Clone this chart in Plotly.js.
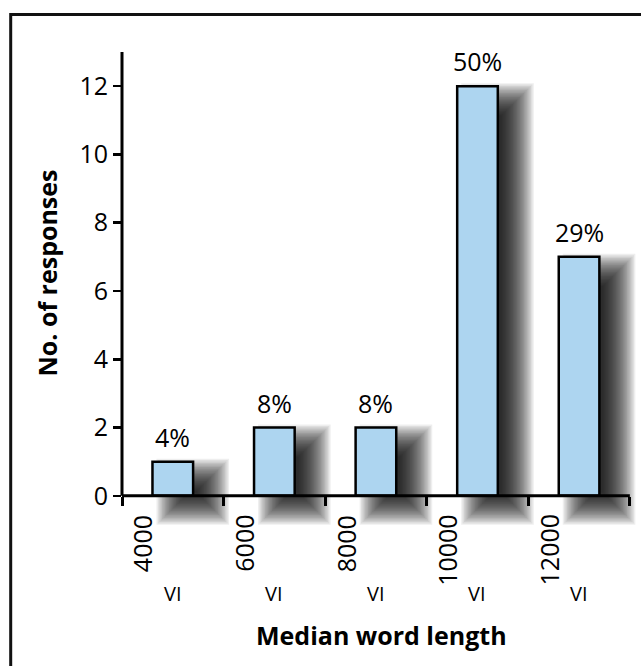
<!DOCTYPE html>
<html>
<head>
<meta charset="utf-8">
<script src="https://cdn.plot.ly/plotly-3.0.1.min.js"></script>
<style>
  html, body { margin: 0; padding: 0; background: #ffffff; }
  #chart { width: 641px; height: 666px; }
</style>
</head>
<body>
<div id="chart"></div>
<script>
// ---- data ----
const categories = ['≤4000', '≤6000', '≤8000', '≤10000', '≤12000'];
const tickNumbers = ['4000', '6000', '8000', '10000', '12000'];
const tickMarks = ['VI', 'VI', 'VI', 'VI', 'VI'];
const responses = [1, 2, 2, 12, 7];
const percentLabels = ['4%', '8%', '8%', '50%', '29%'];

// ---- layout geometry ----
const W = 641, H = 666;
const M = { l: 122, r: 1, t: 52, b: 136 };
const xRange = [-0.5, 4.6];
const yRange = [-1, 13];
const plotW = W - M.l - M.r;
const plotH = H - M.t - M.b;
const catPx = plotW / (xRange[1] - xRange[0]);
const unitPx = plotH / (yRange[1] - yRange[0]);
const barW = 0.4;
const FONT = 'Open Sans, Noto Sans, sans-serif';

// ---- soft drop shadow built from layered translucent bars ----
const traces = [];
const layers = 24;
const blurPx = 16;
const shadowDx = 20 / catPx;
const shadowDy = 13 / unitPx;
for (let k = 0; k < layers; k++) {
  const e = blurPx - 2 * blurPx * k / (layers - 1);
  const ex = e / catPx, ey = e / unitPx;
  traces.push({
    type: 'bar',
    x: categories,
    y: responses.map(v => v + 2 * ey),
    base: -shadowDy - ey,
    offset: -barW / 2 + shadowDx - ex,
    width: barW + 2 * ex,
    marker: { color: 'rgba(0,0,0,0.066)', line: { width: 0 } },
    hoverinfo: 'skip',
    showlegend: false
  });
}

// ---- main bars ----
traces.push({
  type: 'bar',
  x: categories,
  y: responses,
  width: barW,
  marker: { color: '#ADD5F0', line: { color: '#000000', width: 2.5 } },
  showlegend: false,
  hoverinfo: 'x+y'
});

// ---- annotations (x given as category index) ----
const annotations = [];
categories.forEach((c, i) => {
  annotations.push({
    x: i, y: responses[i], xref: 'x', yref: 'y',
    text: percentLabels[i], showarrow: false,
    xanchor: 'center', yanchor: 'bottom', yshift: 6,
    font: { family: FONT, size: 25, color: '#000' }
  });
  annotations.push({
    x: i, y: 0, xref: 'x', yref: 'y',
    text: tickNumbers[i], showarrow: false, textangle: -90,
    xanchor: 'center', yanchor: 'top', xshift: -30, yshift: -17,
    font: { family: FONT, size: 25, color: '#000' }
  });
  annotations.push({
    x: i, y: 0, xref: 'x', yref: 'y',
    text: tickMarks[i], showarrow: false,
    xanchor: 'center', yanchor: 'middle', yshift: -98,
    font: { family: FONT, size: 20, color: '#000' }
  });
});
annotations.push({
  x: 0.5, y: (H - M.b - 635) / plotH, xref: 'paper', yref: 'paper',
  text: '<b>Median word length</b>', showarrow: false,
  xanchor: 'center', yanchor: 'middle',
  font: { family: FONT, size: 25, color: '#000' }
});
annotations.push({
  x: (46 - M.l) / plotW, y: (H - M.b - 273.5) / plotH, xref: 'paper', yref: 'paper',
  text: '<b>No. of responses</b>', showarrow: false, textangle: -90,
  xanchor: 'center', yanchor: 'middle',
  font: { family: FONT, size: 25, color: '#000' }
});

// ---- shapes: axis lines and outer frame ----
const shapes = [
  { type: 'line', xref: 'x', yref: 'y', x0: -0.5, x1: 4.5, y0: 0, y1: 0,
    line: { color: '#000', width: 3 }, layer: 'above' },
  { type: 'line', xref: 'paper', yref: 'y', x0: 0, x1: 0, y0: 0, y1: 13,
    line: { color: '#000', width: 3 }, layer: 'above' },
  { type: 'rect', xref: 'paper', yref: 'paper',
    x0: (10.7 - M.l) / plotW, x1: (720 - M.l) / plotW,
    y0: (H - M.b - 740) / plotH, y1: (H - M.b - 14.5) / plotH,
    line: { color: '#111', width: 3 }, fillcolor: 'rgba(0,0,0,0)', layer: 'above' }
];

const layout = {
  width: W, height: H,
  margin: M,
  paper_bgcolor: '#ffffff', plot_bgcolor: '#ffffff',
  barmode: 'overlay',
  showlegend: false,
  font: { family: FONT, color: '#000' },
  xaxis: {
    type: 'category', range: xRange,
    anchor: 'free', position: (0 - yRange[0]) / (yRange[1] - yRange[0]),
    showline: false, showgrid: false, zeroline: false,
    ticks: 'outside', tickson: 'boundaries', ticklen: 9, tickwidth: 3, tickcolor: '#000',
    showticklabels: false, fixedrange: true
  },
  yaxis: {
    range: yRange, tickmode: 'array', tickvals: [0, 2, 4, 6, 8, 10, 12],
    showline: false, showgrid: false, zeroline: false,
    ticks: 'outside', ticklen: 8, tickwidth: 2.5, tickcolor: '#000',
    tickfont: { family: FONT, size: 25, color: '#000' }, fixedrange: true
  },
  shapes: shapes,
  annotations: annotations
};

Plotly.newPlot('chart', traces, layout, { displayModeBar: false, staticPlot: true });
</script>
</body>
</html>
